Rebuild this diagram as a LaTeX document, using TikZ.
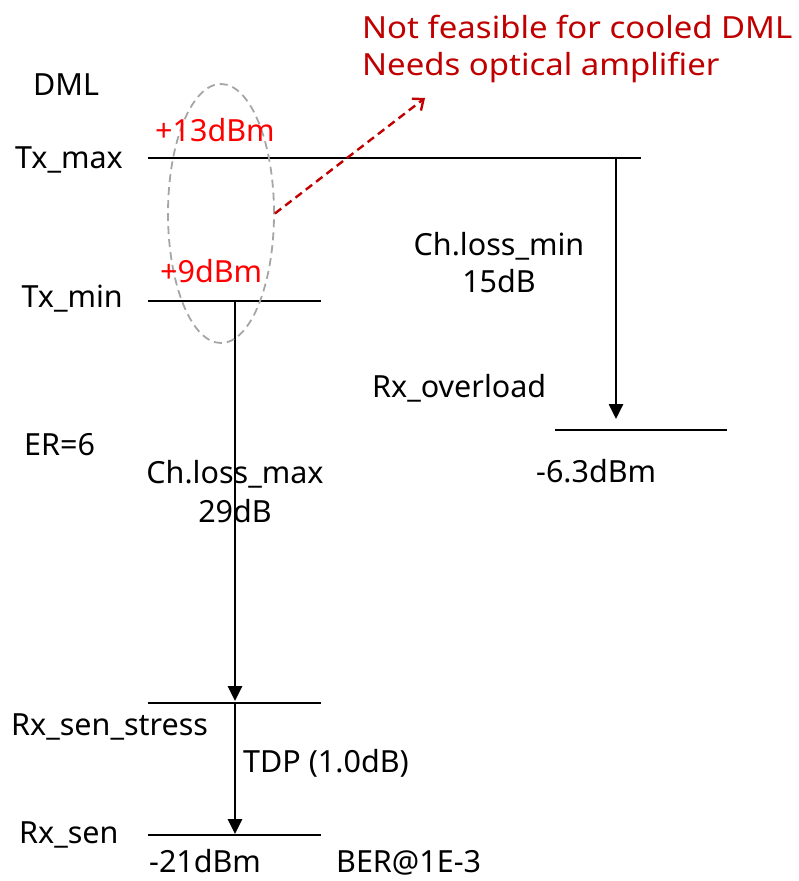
\documentclass[tikz,border=0pt]{standalone}
\usepackage{fontspec}
\setmainfont{Noto Sans}
\newfontfamily\notefont[FakeStretch=1.08]{Noto Sans}
\usetikzlibrary{arrows.meta,shapes.geometric}
\definecolor{darkred}{RGB}{192,0,0}
\definecolor{ellgray}{RGB}{166,166,166}
\tikzset{
  lvl/.style={line width=2.8pt},
  arr/.style={line width=2.6pt,-{Triangle[length=15pt,width=14pt]}},
  lbl/.style={font=\fontsize{30.5}{38}\selectfont, inner sep=0pt, anchor=base west},
  clbl/.style={lbl, anchor=base},
  rlbl/.style={lbl, text=red},
  notelbl/.style={lbl, text=darkred, font=\notefont\fontsize{30.5}{38}\selectfont},
}
\begin{document}
\begin{tikzpicture}[x=1pt,y=-1pt]
\useasboundingbox (0,0) rectangle (798,881);
% levels
\coordinate (txmaxL) at (148,158); \coordinate (txmaxR) at (641,158);
\coordinate (txminL) at (148,301); \coordinate (txminR) at (321,301);
\coordinate (stL) at (148,703); \coordinate (stR) at (321,703);
\coordinate (senL) at (148,835); \coordinate (senR) at (321,835);
\coordinate (ovL) at (555,430); \coordinate (ovR) at (727,430);
\draw[lvl] (txmaxL) -- (txmaxR);
\draw[lvl] (txminL) -- (txminR);
\draw[lvl] (stL) -- (stR);
\draw[lvl] (senL) -- (senR);
\draw[lvl] (ovL) -- (ovR);
% arrows
\coordinate (a1s) at (616,158); \coordinate (a1e) at (616,419);
\coordinate (a2s) at (235,301); \coordinate (a2e) at (235,701);
\coordinate (a3s) at (235,703); \coordinate (a3e) at (235,834);
\draw[arr] (a1s) -- (a1e);
\draw[arr] (a2s) -- (a2e);
\draw[arr] (a3s) -- (a3e);
% ellipse
\node[draw=ellgray, dash pattern=on 8pt off 5pt, line width=1.8pt, ellipse, minimum width=106pt, minimum height=259pt, inner sep=0pt] (ell) at (221,213.5) {};
\coordinate (redend) at (425,98);
\draw[darkred, line width=2.4pt, dash pattern=on 8pt off 5pt, -{Straight Barb[length=9pt,width=15pt]}] (ell.east) -- (redend);
% texts
\node[lbl] (dml) at (33,95) {DML};
\node[lbl, anchor=base east] (txmax) at (123,168) {Tx\_max};
\node[rlbl] (p13) at (155,141) {+13dBm};
\node[lbl, anchor=base east] (txmin) at (123,307) {Tx\_min};
\node[rlbl] (p9) at (160,282) {+9dBm};
\node[lbl] (er) at (24,455) {ER=6};
\node[clbl] (chmax) at (235,483) {Ch.loss\_max};
\node[clbl] (chmaxv) at (235,522) {29dB};
\node[clbl] (chmin) at (499,255) {Ch.loss\_min};
\node[clbl] (chminv) at (499,292) {15dB};
\node[lbl] (ov) at (372,397) {Rx\_overload};
\node[lbl] (m63) at (536,482) {-6.3dBm};
\node[lbl] (sst) at (11,735) {Rx\_sen\_stress};
\node[lbl] (tdp) at (243,772) {TDP (1.0dB)};
\node[lbl] (sen) at (19,843) {Rx\_sen};
\node[lbl] (m21) at (149,872) {-21dBm};
\node[lbl] (ber) at (336,872) {BER@1E-3};
\node[notelbl] (note1) at (362,38) {Not feasible for cooled DML};
\node[notelbl] (note2) at (362,75) {Needs optical amplifier};
\end{tikzpicture}
\end{document}
